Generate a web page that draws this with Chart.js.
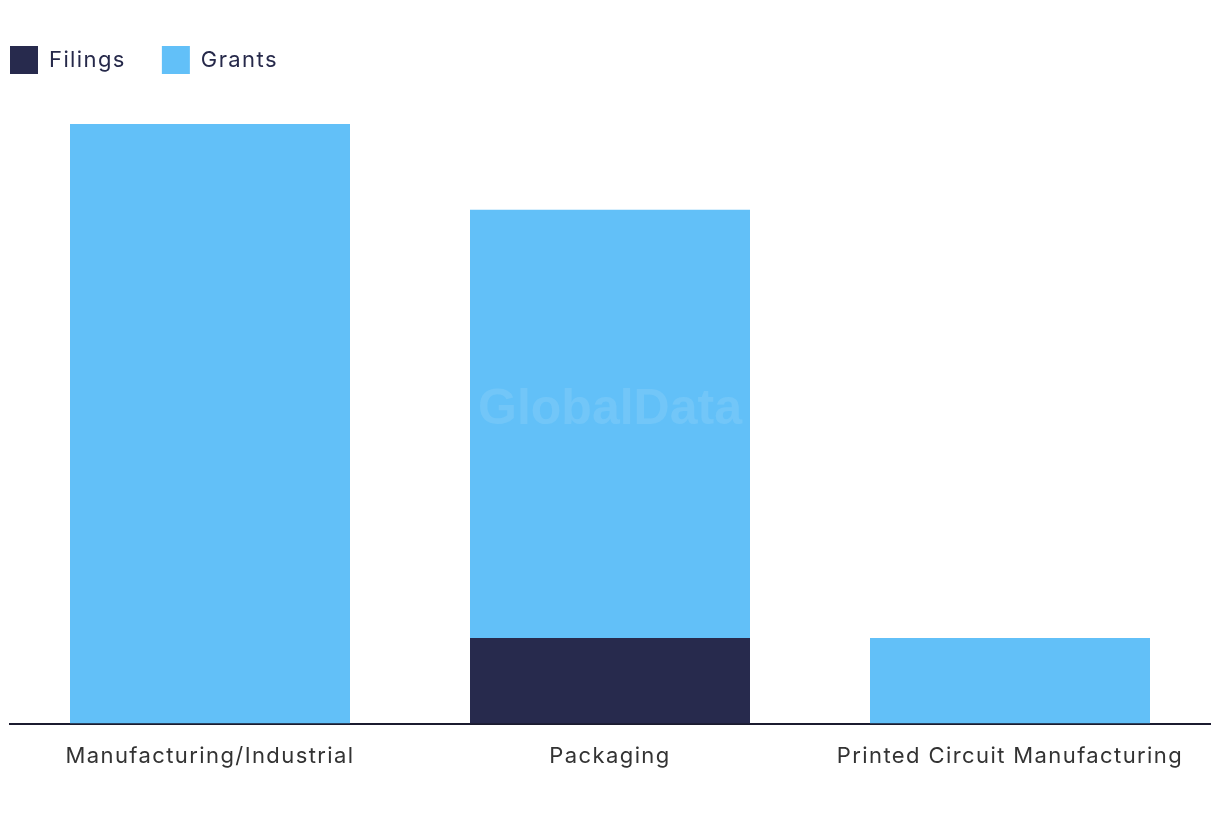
<!DOCTYPE html>
<html>
<head>
<meta charset="utf-8">
<script src="https://cdn.jsdelivr.net/npm/chart.js@4/dist/chart.umd.min.js"></script>
<style>
  html, body { margin: 0; padding: 0; background: #fff; }
  #wrap { width: 1220px; height: 820px; }
</style>
</head>
<body>
<div id="wrap"><canvas id="myChart"></canvas></div>
<script>
var categories = ['Manufacturing/Industrial', 'Packaging', 'Printed Circuit Manufacturing'];
var filings = [0, 1, 0];
var grants = [7, 5, 1];

// a bit of tracking on all chart text, like the original font
var tracking = {
    id: 'tracking',
    beforeUpdate: function(chart) { chart.ctx.letterSpacing = '1.4px'; },
    beforeDraw: function(chart) { chart.ctx.letterSpacing = '1.4px'; }
};

// faint watermark in the middle of the plot
var watermark = {
    id: 'watermark',
    afterDatasetsDraw: function(chart) {
        var a = chart.chartArea;
        var c = chart.ctx;
        c.save();
        c.letterSpacing = '0px';
        c.font = 'bold 50px "Liberation Sans", Arial, sans-serif';
        c.fillStyle = 'rgba(190, 225, 250, 0.18)';
        c.textAlign = 'center';
        c.textBaseline = 'middle';
        c.fillText('GlobalData', (a.left + a.right) / 2, 410);
        c.restore();
    }
};

// push the plot down below the legend, and pull the legend to the left edge
var legendGap = {
    id: 'legendGap',
    beforeInit: function(chart) {
        var fit = chart.legend.fit;
        chart.legend.fit = function() {
            fit.bind(chart.legend)();
            this.height += 40;
        };
    },
    afterLayout: function(chart) {
        chart.legend.left -= 36;
        chart.legend.right -= 36;
    }
};

var ctx = document.getElementById('myChart').getContext('2d');
var chart = new Chart(ctx, {
    type: 'bar',
    data: {
        labels: categories,
        datasets: [{
            label: 'Filings',
            backgroundColor: '#272A4D',
            data: filings
        }, {
            label: 'Grants',
            backgroundColor: '#62C0F8',
            data: grants
        }]
    },
    options: {
        responsive: true,
        maintainAspectRatio: false,
        animation: false,
        layout: { padding: { left: 10, right: 10, top: 10, bottom: 38 } },
        datasets: { bar: { categoryPercentage: 1, barPercentage: 0.7 } },
        scales: {
            x: {
                stacked: true,
                grid: { display: false },
                border: { color: '#1b1b2f', width: 2 },
                ticks: {
                    color: '#333',
                    padding: 12,
                    maxRotation: 0,
                    font: { family: 'Inter, "Noto Sans", sans-serif', size: 22 }
                }
            },
            y: {
                stacked: true,
                display: false,
                min: 0,
                max: 7
            }
        },
        plugins: {
            legend: {
                align: 'start',
                labels: {
                    boxWidth: 28,
                    boxHeight: 28,
                    padding: 36,
                    color: '#26294a',
                    font: { family: 'Inter, "Noto Sans", sans-serif', size: 22 }
                }
            },
            tooltip: { enabled: false }
        }
    },
    plugins: [tracking, watermark, legendGap]
});
</script>
</body>
</html>
